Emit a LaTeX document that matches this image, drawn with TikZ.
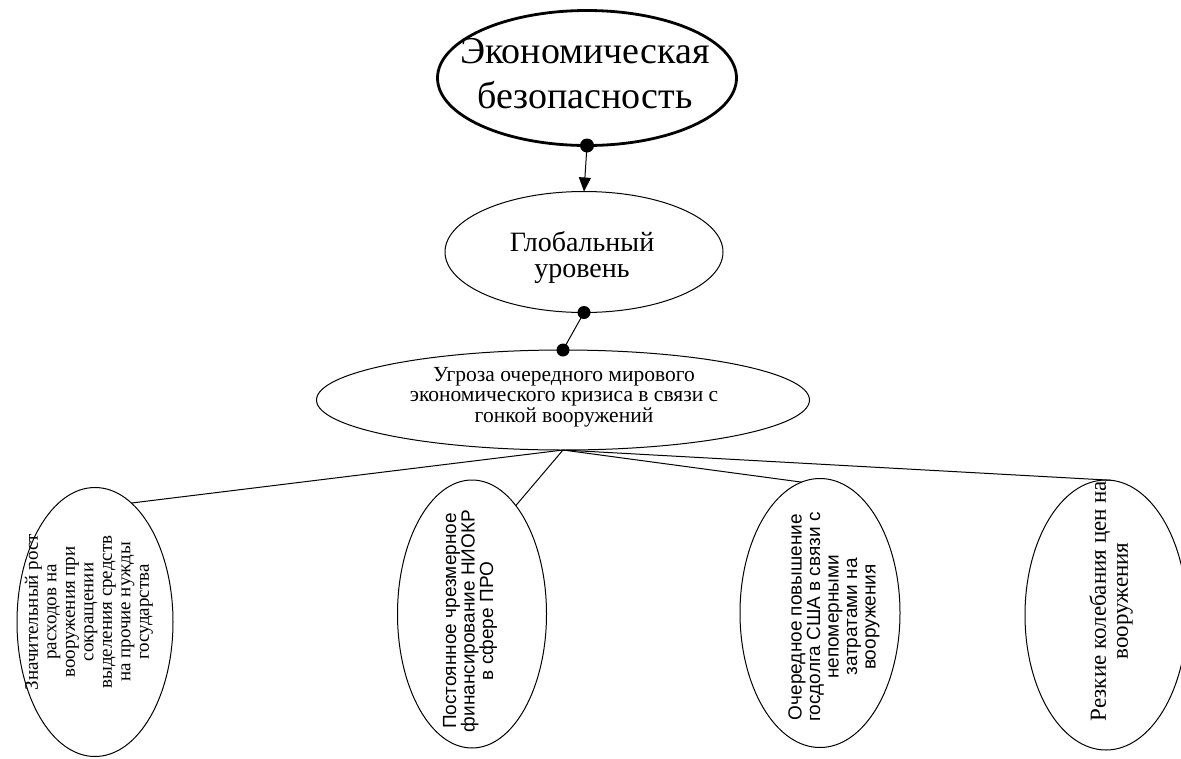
\documentclass[tikz,border=0pt]{standalone}
\usepackage{fontspec}
\setmainfont{Liberation Serif}
\newfontfamily\arialfont{Liberation Sans}
\usetikzlibrary{arrows.meta,shapes.geometric}
\begin{document}
\begin{tikzpicture}[x=1pt,y=-1pt,
  ell/.style={draw, ellipse, inner sep=0pt, outer sep=0pt, line width=1pt},
  txt/.style={align=center, inner sep=0pt},
  vtxt/.style={txt, rotate=90},
  conn/.style={line width=1pt},
  dotc/.style={fill=black}]
\useasboundingbox (0,0) rectangle (1181,758);
% main ellipses
\node[ell, line width=2.8pt, minimum width=299, minimum height=135] (top) at (587,78) {};
\node[txt, font=\fontsize{38}{45}\selectfont] (topt) at (585,74) {Экономическая\\безопасность};
\node[ell, minimum width=278, minimum height=121] (glob) at (584,252) {};
\node[txt, font=\fontsize{28}{26}\selectfont] (globt) at (582,257) {Глобальный\\уровень};
\node[ell, minimum width=493, minimum height=100] (thr) at (563,400) {};
\node[txt, font=\fontsize{21.5}{20.5}\selectfont] (thrt) at (564,397) {Угроза очередного мирового\\экономического кризиса в связи с\\гонкой вооружений};
% leaves
\node[ell, minimum width=156, minimum height=269] (l1) at (95,622) {};
\node[vtxt, font=\fontsize{19}{18.5}\selectfont] (l1t) at (89,612) {Значительный рост\\расходов на\\вооружения при\\сокращении\\выделения средств\\на прочие нужды\\государства};
\node[ell, minimum width=149, minimum height=268] (l2) at (472,614) {};
\node[vtxt, font=\arialfont\fontsize{19}{18.5}\selectfont] (l2t) at (470,621) {Постоянное чрезмерное\\финансирование НИОКР\\в сфере ПРО};
\node[ell, minimum width=160, minimum height=269] (l3) at (820,613) {};
\node[vtxt, font=\arialfont\fontsize{19}{18.5}\selectfont] (l3t) at (834,617) {Очередное повышение\\госдолга США в связи с\\непомерными\\затратами на\\вооружения};
\node[ell, minimum width=162, minimum height=270] (l4) at (1106,615) {};
\node[vtxt, font=\fontsize{23}{22}\selectfont] (l4t) at (1111,601) {Резкие колебания цен на\\вооружения};
% connectors
\draw[conn, -{Triangle[length=14pt,width=12pt]}] (top.south) -- (glob.north);
\fill[dotc] (top.south) circle (7);
\draw[conn] (glob.south) -- (thr.north);
\fill[dotc] (glob.south) circle (6.5);
\fill[dotc] (thr.north) circle (6.5);
\draw[conn] (thr.south) -- (l1.73);
\draw[conn] (thr.south) -- (l2.68);
\draw[conn] (thr.south) -- (l3.98);
\draw[conn] (thr.south) -- (l4.88);
\end{tikzpicture}
\end{document}
